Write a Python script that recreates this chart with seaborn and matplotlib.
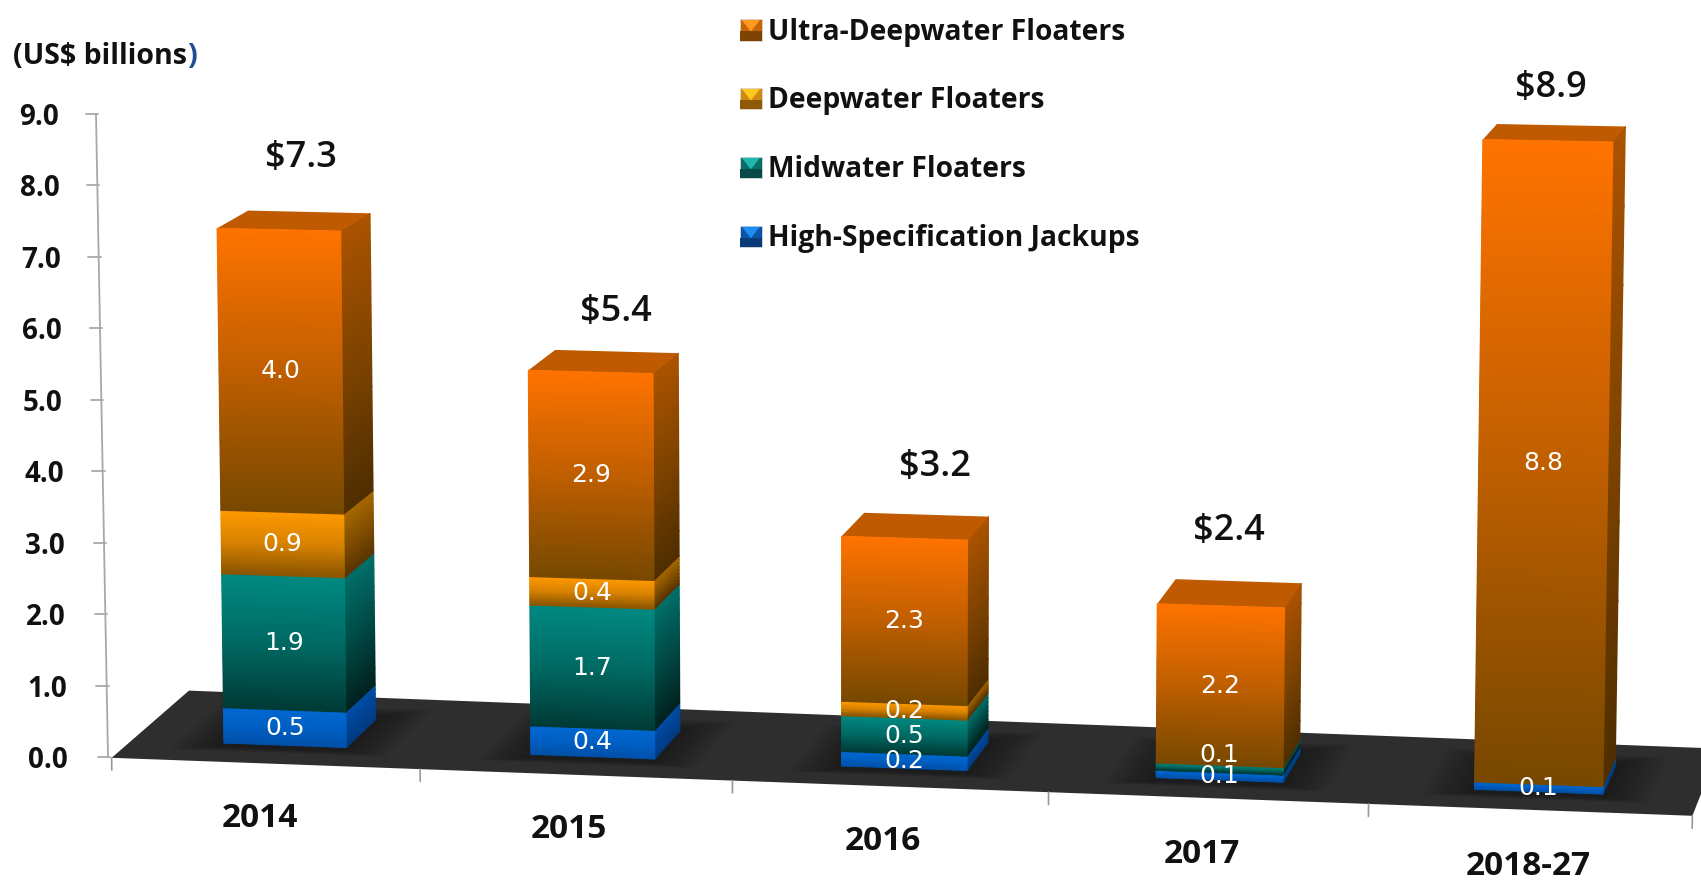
import numpy as np
import matplotlib
matplotlib.use('Agg')
import matplotlib.pyplot as plt
import seaborn as sns
from matplotlib.collections import QuadMesh
from matplotlib.colors import LinearSegmentedColormap, Normalize
from matplotlib.legend_handler import HandlerBase
from matplotlib.patches import Patch, Polygon, Rectangle
from matplotlib.transforms import Affine2D, IdentityTransform, Transform

sns.set_style('white')
plt.rcParams['font.family'] = ['Open Sans', 'DejaVu Sans']

# Datos
years = ['2014', '2015', '2016', '2017', '2018-27']
high_spec = [0.5, 0.4, 0.2, 0.1, 0.1]
midwater = [1.9, 1.7, 0.5, 0.1, 0.0]
deepwater = [0.9, 0.4, 0.2, 0.0, 0.0]
ultra_deep = [4.0, 2.9, 2.3, 2.2, 8.8]
totals = [7.3, 5.4, 3.2, 2.4, 8.9]
y_ticks = [0, 1, 2, 3, 4, 5, 6, 7, 8, 9]

series_names = ['High-Specification Jackups', 'Midwater Floaters',
                'Deepwater Floaters', 'Ultra-Deepwater Floaters']
series_values = [high_spec, midwater, deepwater, ultra_deep]

# Colores de cada serie: frente, lado y muestra de la leyenda
front_ramps = [['#0068D2', '#0060C4', '#0050A8'],
               ['#008A82', '#006A64', '#003A36'],
               ['#FF9A00', '#D88200', '#8A5500'],
               ['#FF7300', '#C05F00', '#774800']]
side_ramps = [['#004FA8', '#004494', '#003C84'],
              ['#00706A', '#004A46', '#00221F'],
              ['#A86800', '#835000', '#5A3400'],
              ['#AC5300', '#7E4300', '#4F2E00']]
swatches = [['#1E8CF0', '#0A55A8', '#0A3A78'],
            ['#20B8AE', '#0A6E68', '#084A46'],
            ['#FFC81E', '#D08A10', '#8F5A08'],
            ['#FF9A20', '#C86408', '#7E4404']]
top_color = '#C05A00'
floor_color = '#2E2E2E'

WIDTH, HEIGHT = 1701, 880
FRONT = -0.65   # borde delantero del piso
BACK = 1.75     # borde trasero del piso


# Proyeccion: categoria, valor y profundidad a pixeles de la figura
def project(i, v, d=0.0):
    i, v = np.asarray(i, float), np.asarray(v, float)
    x0 = 285 + 305.8 * i + 1.9 * i ** 2
    dx = 31 - 0.0135 * (x0 - 224)
    dy = -(28 - 1.4 * v)
    x = 848 + (x0 - 848) * (1 + 0.0015 * v) + d * dx
    y = 743 + 0.037 * (x0 - 224) - v * (70.5 + 0.002 * (x0 - 224)) + d * dy
    return x, HEIGHT - y


class Floor3D(Transform):
    input_dims = 2
    output_dims = 2
    is_separable = False
    has_inverse = False

    def __init__(self, d=0.0):
        super().__init__()
        self.d = d

    def transform_non_affine(self, values):
        x, y = project(values[:, 0], values[:, 1], self.d)
        return np.column_stack([x, y])


def ramp(colors):
    return LinearSegmentedColormap.from_list('r', list(zip([0, 0.5, 1], colors)))


def add_face(ax, i_pts, v_pts, d_pts, cmap, z):
    # Malla con degradado vertical: i_pts y d_pts van a lo ancho, v_pts de arriba a abajo
    ii, vv = np.meshgrid(i_pts, v_pts)
    dd = np.tile(d_pts, (len(v_pts), 1))
    px, py = project(ii, vv, dd)
    shade = np.tile(np.linspace(0, 1, len(v_pts)).reshape(-1, 1), (1, len(i_pts)))
    mesh = QuadMesh(np.dstack([px, py]), shading='gouraud', cmap=cmap, norm=Normalize(0, 1),
                    transform=IdentityTransform(), zorder=z)
    mesh.set_array(shade)
    ax.add_collection(mesh, autolim=False)
    mesh.set_clip_on(False)


class SwatchHandler(HandlerBase):
    def create_artists(self, legend, orig, xd, yd, w, h, fs, trans):
        light, mid, dark = orig.swatch
        x0, y0 = -xd, -yd
        s = min(w, h)
        base = Rectangle((x0, y0), s, s, facecolor=mid, edgecolor='#D8D8D8', lw=0.6, transform=trans)
        lower = Rectangle((x0, y0), s, s * 0.42, facecolor=dark, edgecolor='none', transform=trans)
        tri = Polygon([(x0 + s * 0.08, y0 + s * 0.95), (x0 + s * 0.92, y0 + s * 0.95), (x0 + s / 2, y0 + s * 0.42)],
                      facecolor=light, edgecolor='none', transform=trans)
        return [base, lower, tri]


fig = plt.figure(figsize=(WIDTH / 100, HEIGHT / 100), dpi=100)
ax = fig.add_axes([108 / WIDTH, (HEIGHT - 757) / HEIGHT, (1690 - 108) / WIDTH, (757 - 114) / HEIGHT])

# Barras apiladas con seaborn
positions = list(range(len(years)))
bottom = np.zeros(len(years))
n_done = 0
bars_by_series = []
for values in series_values:
    sns.barplot(x=years, y=values, bottom=bottom, color='#808080', width=0.4, ax=ax, zorder=3)
    bars_by_series.append(ax.patches[n_done:])
    n_done = len(ax.patches)
    bottom = bottom + np.array(values)

ax.set_xlim(-0.5, 4.5)
ax.set_ylim(0, 9)
sns.despine(ax=ax, left=True, bottom=True)

# Piso
edges = np.array([-0.5, 4.5])
fx, fy = project([edges[0], edges[1], edges[1], edges[0]], [0, 0, 0, 0], np.array([FRONT, FRONT, BACK, BACK]))
floor = Polygon(np.column_stack([fx, fy]), facecolor=floor_color, edgecolor='none',
                transform=IdentityTransform(), zorder=1, clip_on=False)
ax.add_patch(floor)

# Sombras sobre el piso
for k in range(len(years)):
    for grow in np.linspace(0.02, 0.15, 7):
        sx, sy = project([k - 0.2 - grow, k + 0.2 + grow, k + 0.2 + grow, k - 0.2 - grow], [0, 0, 0, 0],
                         np.array([-0.12 - grow, -0.12 - grow, 1.1 + grow * 2, 1.1 + grow * 2]))
        ax.add_patch(Polygon(np.column_stack([sx, sy]), facecolor='black', alpha=0.055, edgecolor='none',
                             transform=IdentityTransform(), zorder=1.5, clip_on=False))

# Caras de cada barra a partir de los rectangulos de seaborn
for s, bars in enumerate(bars_by_series):
    front_cmap = ramp(front_ramps[s])
    side_cmap = ramp(side_ramps[s])
    for bar in bars:
        bar.set_transform(Floor3D(0.0))
        bar.set_clip_on(False)
        bar.set_facecolor(front_ramps[s][1])
        bar.set_edgecolor('none')
        h = bar.get_height()
        if h <= 0:
            bar.set_visible(False)
            continue
        left, right = bar.get_x(), bar.get_x() + bar.get_width()
        low, high = bar.get_y(), bar.get_y() + h
        v_pts = np.linspace(high, low, 9)
        add_face(ax, [right, right], v_pts, [0.0, 1.0], side_cmap, 3.5)
        add_face(ax, [left, right], v_pts, [0.0, 0.0], front_cmap, 4)
        k = int(round((left + right) / 2))
        label_v = (low + high) / 2
        nudge = 14 if (years[k] == '2017' and series_names[s] == 'Midwater Floaters') else 0
        ax.text(k, label_v, '{:.1f}'.format(h), color='white', fontsize=18, family='DejaVu Sans',
                ha='center', va='center', zorder=6,
                transform=Floor3D(0.0) + Affine2D().translate(0, nudge))

# Cara superior de cada barra
for k, total in enumerate(bottom):
    tx, ty = project([k - 0.2, k + 0.2, k + 0.2, k - 0.2], [total] * 4, np.array([0, 0, 1, 1]))
    ax.add_patch(Polygon(np.column_stack([tx, ty]), facecolor=top_color, edgecolor='none',
                         transform=IdentityTransform(), zorder=3.6, clip_on=False))

# Totales encima de las barras
total_nudge = [(-8, 54), (-1, 40), (9, 48), (-10, 50), (-10, 37)]
for k, total in enumerate(totals):
    ax.text(k, bottom[k], '${:.1f}'.format(total), fontsize=26, fontweight='semibold', ha='center', va='center',
            color='#111111', zorder=6, transform=Floor3D(1.0) + Affine2D().translate(*total_nudge[k]))

# Eje y: linea inclinada, marcas y etiquetas reales
tilt = -12 / (1690 - 108)
ax.plot([0, tilt], [0, 1], transform=ax.transAxes, color='#A8A8A8', lw=1.3, clip_on=False, zorder=2)
ax.set_yticks(y_ticks)
ax.set_yticklabels(['{:.1f}'.format(t) for t in y_ticks], fontsize=20, fontweight='bold', color='#111111')
ax.tick_params(axis='y', length=0, pad=29)
for tick_v, lab in zip(y_ticks, ax.get_yticklabels()):
    lab.set_transform(lab.get_transform() + Affine2D().translate(-9 * tick_v / 9, 0))
    ax.plot([tilt * tick_v / 9 - 0.0065, tilt * tick_v / 9 + 0.0012], [tick_v / 9, tick_v / 9],
            transform=ax.transAxes, color='#A8A8A8', lw=1.3, clip_on=False, zorder=2)

# Eje x: marcas sobre el borde delantero del piso y etiquetas reales
for e in np.arange(-0.5, 5.0, 1.0):
    ax.plot([e, e], [0, -0.17], transform=Floor3D(FRONT), color='#999999', lw=1.2, clip_on=False, zorder=2)
ax.set_xticks(positions)
ax.set_xticklabels(years, fontsize=24, fontweight='bold', color='#111111')
ax.tick_params(axis='x', length=0)
label_nudge = [-6, -7, -7, -6, -1]
for lab, nudge in zip(ax.get_xticklabels(), label_nudge):
    lab.set_transform(Floor3D(FRONT) + Affine2D().translate(nudge, -1))
    lab.set_y(-0.75)
    lab.set_verticalalignment('center')

ax.set_xlabel('')
ax.set_ylabel('')
ax.set_xlim(-0.5, 4.5)
ax.set_ylim(0, 9)

# Unidad, con el parentesis final en azul
unit = fig.text(13 / WIDTH, 1 - 57 / HEIGHT, '(US$ billions', fontsize=20.5, fontweight='bold', color='#111111', va='center')
ax.annotate(')', xy=(1, 0.5), xycoords=unit, va='center', ha='left', fontsize=20.5, fontweight='bold', color='#1F4E96')

# Leyenda
handles = []
for s in [3, 2, 1, 0]:
    p = Patch(label=series_names[s])
    p.swatch = swatches[s]
    handles.append(p)
leg = ax.legend(handles=handles, handler_map={Patch: SwatchHandler()}, loc='upper left',
                bbox_to_anchor=(717.5 / WIDTH, 1 + 5 / HEIGHT), bbox_transform=fig.transFigure,
                frameon=False, labelspacing=1.415, handlelength=0.8, handleheight=0.8,
                handletextpad=0.18, borderpad=0.3, prop={'weight': 'bold', 'size': 20.3})
for t in leg.get_texts():
    t.set_color('#111111')

fig.savefig('out.png', dpi=100)
